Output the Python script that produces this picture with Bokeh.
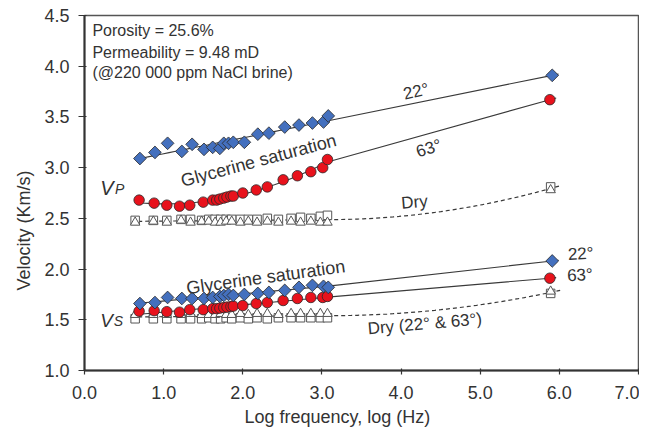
import numpy as np
from bokeh.plotting import figure
from bokeh.models import Range1d, NumeralTickFormatter, Label, Title
from bokeh.embed import file_html
from bokeh.resources import INLINE

# ---------------- data ----------------
x_22 = [0.70, 0.89, 1.05, 1.23, 1.36, 1.51, 1.62, 1.71, 1.76, 1.82, 1.88, 2.02,
        2.19, 2.33, 2.53, 2.71, 2.88, 3.02, 3.08, 5.91]
vp_22 = [3.09, 3.15, 3.24, 3.16, 3.23, 3.18, 3.20, 3.19, 3.24, 3.24, 3.25, 3.25,
         3.33, 3.34, 3.40, 3.42, 3.44, 3.45, 3.51, 3.91]
vs_22 = [1.66, 1.67, 1.72, 1.71, 1.71, 1.71, 1.72, 1.73, 1.74, 1.75, 1.74, 1.75,
         1.76, 1.77, 1.79, 1.82, 1.84, 1.83, 1.82, 2.08]

x_63 = [0.69, 0.88, 1.04, 1.20, 1.33, 1.50, 1.62, 1.67, 1.71, 1.76, 1.80, 1.85,
        1.88, 2.00, 2.17, 2.31, 2.51, 2.69, 2.86, 3.01, 3.07, 5.88]
vp_63 = [2.68, 2.65, 2.63, 2.62, 2.63, 2.66, 2.68, 2.68, 2.69, 2.70, 2.71, 2.72,
         2.72, 2.75, 2.78, 2.81, 2.88, 2.92, 2.96, 3.00, 3.08, 3.67]
vs_63 = [1.585, 1.59, 1.58, 1.575, 1.60, 1.60, 1.61, 1.61, 1.615, 1.62, 1.625, 1.63,
         1.635, 1.64, 1.66, 1.67, 1.69, 1.71, 1.72, 1.72, 1.73, 1.91]

x_dry = [0.64, 0.87, 1.04, 1.22, 1.34, 1.48, 1.57, 1.65, 1.72, 1.79, 1.86, 1.97,
         2.07, 2.18, 2.31, 2.45, 2.61, 2.73, 2.86, 2.98, 3.07, 5.89]
vp_dry_sq = [2.48, 2.48, 2.48, 2.49, 2.49, 2.48, 2.49, 2.49, 2.49, 2.49, 2.49, 2.49,
             2.49, 2.49, 2.50, 2.49, 2.50, 2.51, 2.50, 2.52, 2.53, 2.81]
vp_dry_tri = [2.46, 2.47, 2.46, 2.48, 2.46, 2.47, 2.47, 2.46, 2.46, 2.47, 2.47, 2.46,
              2.47, 2.46, 2.47, 2.46, 2.47, 2.46, 2.47, 2.46, 2.46, 2.78]
vs_dry_sq = [1.51, 1.51, 1.51, 1.51, 1.51, 1.51, 1.52, 1.51, 1.51, 1.52, 1.51, 1.52,
             1.51, 1.52, 1.51, 1.52, 1.52, 1.52, 1.52, 1.52, 1.52, 1.76]
vs_dry_tri = [1.55, 1.55, 1.55, 1.55, 1.56, 1.55, 1.55, 1.55, 1.56, 1.55, 1.55, 1.56,
              1.55, 1.56, 1.56, 1.55, 1.56, 1.56, 1.56, 1.56, 1.56, 1.78]

x_ticks = [0, 1, 2, 3, 4, 5, 6, 7]
y_ticks = [1.0, 1.5, 2.0, 2.5, 3.0, 3.5, 4.0, 4.5]
x_title = "Log frequency, log (Hz)"
y_title = "Velocity (Km/s)"

# ---------------- helpers ----------------
def trend(x, y, deg=1):
    x = np.asarray(x, float); y = np.asarray(y, float)
    lo = x < 4
    c = np.polyfit(x[lo], y[lo], deg)
    xs = list(np.linspace(x[lo].min() - 0.05, x[lo].max(), 30))
    ys = list(np.polyval(c, xs))
    xe, ye = x[-1], y[-1]
    slope = (ye - ys[-1]) / (xe - xs[-1])
    xs += [xe, xe + 0.08]
    ys += [ye, ye + slope * 0.08]
    return xs, ys

def dry_trend(x, y1, y2):
    x = np.asarray(x, float)
    y = (np.asarray(y1, float) + np.asarray(y2, float)) / 2
    lo = x < 4
    c = np.polyfit(x[lo], y[lo], 1)
    x0 = x[lo].max(); y0 = np.polyval(c, x0)
    xs = list(np.linspace(x[lo].min() - 0.05, x0, 10))
    ys = list(np.polyval(c, xs))
    k = (y[-1] - y0) / (x[-1] - x0) ** 2
    xq = np.linspace(x0, x[-1] + 0.12, 40)
    xs += list(xq)
    ys += list(y0 + k * (xq - x0) ** 2)
    return xs, ys

# ---------------- figure ----------------
p = figure(width=639, height=436, output_backend="svg", toolbar_location=None,
           x_range=Range1d(0, 7), y_range=Range1d(1.0, 4.5),
           min_border_left=84, min_border_right=1, min_border_top=15, min_border_bottom=66)
p.background_fill_color = "white"
p.border_fill_color = "white"
p.outline_line_color = "#555555"
p.outline_line_width = 1.5
p.grid.visible = False

FONT = "Liberation Sans"
TXT = "#333333"

for ax in (p.xaxis[0], p.yaxis[0]):
    ax.axis_line_color = "#333333"
    ax.axis_line_width = 2
    ax.major_tick_line_color = "#333333"
    ax.major_tick_line_width = 1.2
    ax.minor_tick_line_color = None
    ax.major_label_text_font = FONT
    ax.major_label_text_font_size = "18px"
    ax.major_label_text_color = TXT
    ax.formatter = NumeralTickFormatter(format="0.0")

p.xaxis.ticker = x_ticks
p.yaxis.ticker = y_ticks
p.xaxis.major_tick_in = 2
p.xaxis.major_tick_out = 4
p.yaxis.major_tick_in = 2
p.yaxis.major_tick_out = 6
p.xaxis.major_label_standoff = 11
p.yaxis.major_label_standoff = 9

# axis titles, off-centre like the reference
p.add_layout(Title(text=x_title, align="left", offset=160, standoff=6,
                   text_font=FONT, text_font_size="18px", text_font_style="normal",
                   text_color=TXT), "below")
p.add_layout(Title(text=y_title, align="left", offset=80, standoff=15,
                   text_font=FONT, text_font_size="18px", text_font_style="normal",
                   text_color=TXT), "left")

LINE = "#3a3a3a"
# trend lines
for xx, yy, d in ((x_22, vp_22, 1), (x_63, vp_63, 2), (x_22, vs_22, 1), (x_63, vs_63, 1)):
    tx, ty = trend(xx, yy, d)
    p.line(tx, ty, line_color=LINE, line_width=1.1)
for a, b in ((vp_dry_sq, vp_dry_tri), (vs_dry_sq, vs_dry_tri)):
    tx, ty = dry_trend(x_dry, a, b)
    p.line(tx, ty, line_color=LINE, line_width=1.2, line_dash="4 3")

# dry markers
OUT = "#555555"
for ys in (vp_dry_sq, vs_dry_sq):
    p.scatter(x_dry, ys, marker="square", size=8.5, fill_color="white",
              line_color=OUT, line_width=1)
for ys in (vp_dry_tri, vs_dry_tri):
    p.scatter(x_dry, ys, marker="triangle", size=9.5, fill_color="white",
              line_color=OUT, line_width=1)

# saturated markers
BLUE = "#4470BE"
RED = "#E8121C"
for ys in (vp_63, vs_63):
    p.scatter(x_63, ys, marker="circle", size=10.5, fill_color=RED,
              line_color="#2a2a2a", line_width=0.8)
for ys in (vp_22, vs_22):
    p.scatter(x_22, ys, marker="square", size=9, angle=np.pi / 4, fill_color=BLUE,
              line_color="#2a2a2a", line_width=0.8)

# ---------------- annotations ----------------
def lab(x, y, t, size="17px", angle=0.0, align="center", baseline="middle", style="normal"):
    p.add_layout(Label(x=x, y=y, text=t, text_font=FONT, text_font_size=size,
                       text_color=TXT, angle=np.deg2rad(angle), text_align=align,
                       text_baseline=baseline, text_font_style=style))

lab(0.10, 4.35, "Porosity = 25.6%", size="16px", align="left")
lab(0.10, 4.135, "Permeability = 9.48 mD", size="16px", align="left")
lab(0.10, 3.94, "(@220 000 ppm NaCl brine)", size="16px", align="left")

lab(0.20, 2.795, "V", size="20px", align="left", baseline="alphabetic", style="italic")
lab(0.385, 2.79, "P", size="14px", align="left", baseline="alphabetic", style="italic")
lab(0.20, 1.49, "V", size="19px", align="left", baseline="alphabetic", style="italic")
lab(0.37, 1.49, "S", size="14px", align="left", baseline="alphabetic", style="italic")

lab(2.20, 3.07, "Glycerine saturation", size="18px", angle=15)
lab(2.29, 1.92, "Glycerine saturation", size="18px", angle=8)
lab(4.19, 3.75, "22°", angle=13)
lab(4.35, 3.19, "63°", angle=18)
lab(4.17, 2.66, "Dry", angle=5)
lab(6.27, 2.15, "22°", angle=3)
lab(6.26, 1.94, "63°", angle=3)
lab(4.30, 1.46, "Dry (22° & 63°)", angle=5)

open("out.html", "w").write(file_html(p, INLINE))
